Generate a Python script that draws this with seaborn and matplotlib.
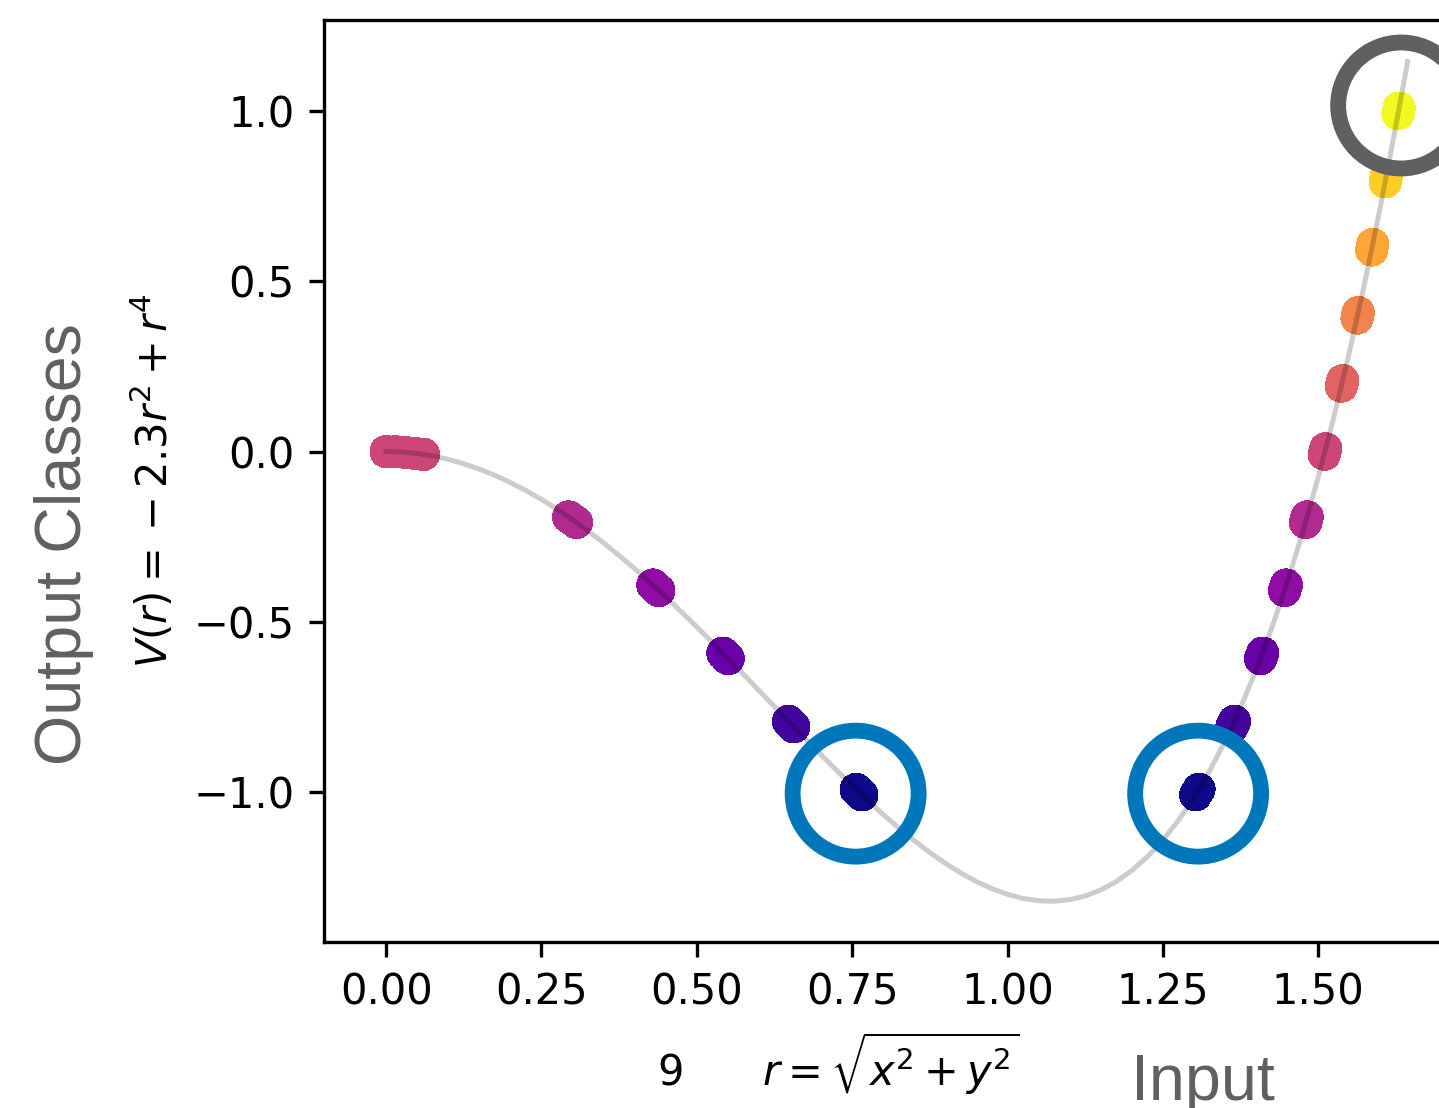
import matplotlib
matplotlib.use("Agg")
import matplotlib.pyplot as plt
import seaborn as sns
import pandas as pd

# ---- data ----
curve_r = [0.000, 0.025, 0.050, 0.075, 0.100, 0.125, 0.150, 0.175, 0.200, 0.225,
           0.250, 0.275, 0.300, 0.325, 0.350, 0.375, 0.400, 0.425, 0.450, 0.475,
           0.500, 0.525, 0.550, 0.575, 0.600, 0.625, 0.650, 0.675, 0.700, 0.725,
           0.750, 0.775, 0.800, 0.825, 0.850, 0.875, 0.900, 0.925, 0.950, 0.975,
           1.000, 1.025, 1.050, 1.075, 1.100, 1.125, 1.150, 1.175, 1.200, 1.225,
           1.250, 1.275, 1.300, 1.325, 1.350, 1.375, 1.400, 1.425, 1.450, 1.475,
           1.500, 1.525, 1.550, 1.575, 1.600, 1.625, 1.644]
curve_v = [0.0, -0.00145, -0.00578, -0.01298, -0.02303, -0.03590, -0.05154, -0.06990,
           -0.09092, -0.11452, -0.14064, -0.16916, -0.20001, -0.23306, -0.26820, -0.30530,
           -0.34422, -0.38482, -0.42693, -0.47040, -0.51504, -0.56068, -0.60711, -0.65414,
           -0.70154, -0.74909, -0.79657, -0.84373, -0.89032, -0.93608, -0.98073, -1.02400,
           -1.06559, -1.10521, -1.14255, -1.17730, -1.20911, -1.23766, -1.26260, -1.28356,
           -1.30020, -1.31213, -1.31897, -1.32030, -1.31577, -1.30491, -1.28734, -1.26260,
           -1.23026, -1.18988, -1.14097, -1.08308, -1.01573, -0.93843, -0.85067, -0.75196,
           -0.64176, -0.51958, -0.38484, -0.23702, -0.07554, 0.10014, 0.29059, 0.49642,
           0.71820, 0.95657, 1.14500]

# sample points: radius, potential, class level
pts_r = [0.000, 0.015, 0.030, 0.045, 0.060,
         0.2937, 0.3000, 0.3063,
         0.4293, 0.4341, 0.4389,
         0.5419, 0.5462, 0.5505,
         0.6476, 0.6518, 0.6560,
         0.7564, 0.7610, 0.7656,
         1.3027, 1.3054, 1.3081,
         1.3612, 1.3632, 1.3652,
         1.4072, 1.4088, 1.4105,
         1.4459, 1.4473, 1.4487,
         1.4797, 1.4809, 1.4822,
         1.5099, 1.5110, 1.5121,
         1.5373, 1.5384, 1.5394,
         1.5626, 1.5635, 1.5645,
         1.5860, 1.5869, 1.5878,
         1.6079, 1.6088, 1.6096,
         1.6286, 1.6294, 1.6302]
pts_v = [0.0, -0.0005, -0.0021, -0.0047, -0.0083,
         -0.192, -0.2, -0.208,
         -0.392, -0.4, -0.408,
         -0.592, -0.6, -0.608,
         -0.792, -0.8, -0.808,
         -0.992, -1.0, -1.008,
         -1.008, -1.0, -0.992,
         -0.808, -0.8, -0.792,
         -0.608, -0.6, -0.592,
         -0.408, -0.4, -0.392,
         -0.208, -0.2, -0.192,
         -0.008, 0.0, 0.008,
         0.192, 0.2, 0.208,
         0.392, 0.4, 0.408,
         0.592, 0.6, 0.608,
         0.792, 0.8, 0.808,
         0.992, 1.0, 1.008]
pts_class = [0.0] * 5 + [-0.2] * 3 + [-0.4] * 3 + [-0.6] * 3 + [-0.8] * 3 + [-1.0] * 3 + \
            [-1.0] * 3 + [-0.8] * 3 + [-0.6] * 3 + [-0.4] * 3 + [-0.2] * 3 + [0.0] * 3 + \
            [0.2] * 3 + [0.4] * 3 + [0.6] * 3 + [0.8] * 3 + [1.0] * 3

blue_circle_r = [0.7556, 1.3068]
blue_circle_v = [-1.0044, -1.0044]
grey_circle_r = [1.6335]
grey_circle_v = [1.016]

x_ticks = [0.00, 0.25, 0.50, 0.75, 1.00, 1.25, 1.50]
y_ticks = [-1.0, -0.5, 0.0, 0.5, 1.0]

# ---- figure ----
W, H = 1439, 1108
fig = plt.figure(figsize=(W / 300, H / 300), dpi=300)
ax = fig.add_axes([324 / W, 166 / H, (1458 - 324) / W, 922 / H])

df = pd.DataFrame({"r": pts_r, "v": pts_v, "cls": pts_class})
sns.scatterplot(data=df, x="r", y="v", hue="cls", palette="plasma", hue_norm=(-1, 1),
                s=60, linewidth=0, edgecolor="none", legend=False, ax=ax, zorder=2,
                antialiased=False)

sns.lineplot(x=curve_r, y=curve_v, color="black", alpha=0.2, lw=1.2, estimator=None,
             sort=False, ax=ax, zorder=3)

ax.scatter(blue_circle_r, blue_circle_v, s=914, facecolors="none", edgecolors="#0077bb",
           linewidths=3.8, zorder=4, clip_on=False)
ax.scatter(grey_circle_r, grey_circle_v, s=914, facecolors="none", edgecolors="#606060",
           linewidths=3.8, zorder=4, clip_on=False)

ax.set_xlim(-0.1, 1.725)
ax.set_ylim(-1.44, 1.267)
ax.set_xticks(x_ticks)
ax.set_yticks(y_ticks)
ax.set_xlabel(r"$r = \sqrt{x^2 + y^2}$", fontsize=10)
ax.set_ylabel(r"$V(r) = {} - 2.3r^2 + r^4$", fontsize=10)

fig.text(657 / W, 1 - 1085 / H, "9", fontsize=10, ha="left", va="baseline")
fig.text(1131 / W, 1 - 1100 / H, "Input", fontsize=15.5, color="#606060",
         family=["Liberation Sans", "DejaVu Sans"], ha="left", va="baseline")
fig.text(64 / W, 1 - 544 / H, "Output Classes", fontsize=15.5, color="#606060",
         family=["Liberation Sans", "DejaVu Sans"], rotation=90, ha="center", va="center")

fig.savefig("out.png", dpi=300)
